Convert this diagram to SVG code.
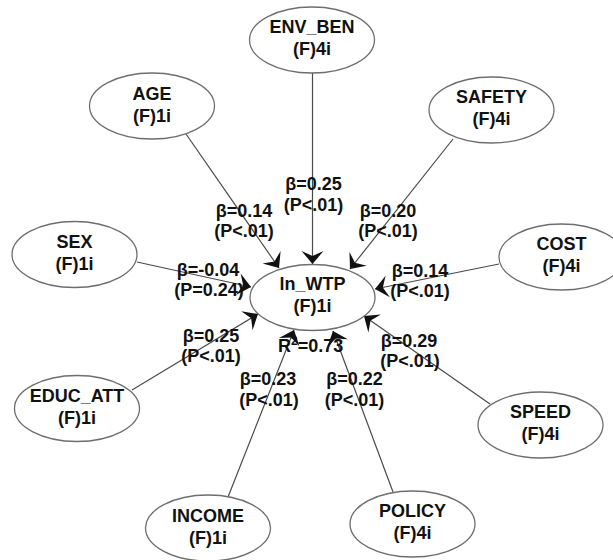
<svg xmlns="http://www.w3.org/2000/svg" width="613" height="560" viewBox="0 0 613 560">
<style>
.node ellipse{fill:#fff;stroke:#6e6e6e;stroke-width:1.3}
text{font-family:"Liberation Sans",Arial,sans-serif;font-weight:bold;font-size:18px;fill:#111;text-anchor:middle}
.conn line{stroke:#4a4a4a;stroke-width:1.2;marker-end:url(#arr)}
</style>
<defs>
<marker id="arr" markerUnits="userSpaceOnUse" viewBox="-14 -12 15 24" refX="0" refY="0" markerWidth="15" markerHeight="24" orient="auto">
<path d="M0,0 L-13,-11 L-8,0 L-13,11 Z" fill="#111"/>
</marker>
</defs>
<rect width="613" height="560" fill="#fff"/>
<g id="connectors" class="conn">
<line x1="312.5" y1="73" x2="312.5" y2="264"/>
<line x1="186" y1="134" x2="279" y2="268"/>
<line x1="453" y1="139" x2="350" y2="269"/>
<line x1="137" y1="262" x2="251" y2="287"/>
<line x1="499" y1="264" x2="375" y2="289"/>
<line x1="132" y1="390" x2="258" y2="314"/>
<line x1="490" y1="404" x2="364" y2="316"/>
<line x1="228" y1="497" x2="294" y2="330"/>
<line x1="393" y1="492" x2="333" y2="331"/>
</g>
<g id="labels">
<text x="313.5" y="190">β=0.25</text><text x="313.5" y="211">(P&lt;.01)</text>
<text x="244" y="217">β=0.14</text><text x="244" y="237">(P&lt;.01)</text>
<text x="388" y="217">β=0.20</text><text x="388" y="237">(P&lt;.01)</text>
<text x="208" y="276">β=-0.04</text><text x="209" y="296">(P=0.24)</text>
<text x="420" y="277">β=0.14</text><text x="420" y="297">(P&lt;.01)</text>
<text x="211" y="342">β=0.25</text><text x="211" y="362">(P&lt;.01)</text>
<text x="409" y="347">β=0.29</text><text x="410" y="367">(P&lt;.01)</text>
<text x="268" y="385">β=0.23</text><text x="269" y="406">(P&lt;.01)</text>
<text x="354.5" y="385">β=0.22</text><text x="354.5" y="406">(P&lt;.01)</text>
<text x="278" y="352" style="text-anchor:start">R<tspan font-size="12" dy="-7">2</tspan><tspan dy="7">=0.73</tspan></text>
</g>
<g id="ENV_BEN" class="node"><ellipse cx="312" cy="40" rx="62.5" ry="33"/><text x="312" y="33">ENV_BEN</text><text x="312" y="55">(F)4i</text></g>
<g id="AGE" class="node"><ellipse cx="152" cy="106" rx="62.5" ry="33"/><text x="152" y="100">AGE</text><text x="152" y="122">(F)1i</text></g>
<g id="SAFETY" class="node"><ellipse cx="491.5" cy="110" rx="62.5" ry="33"/><text x="491.5" y="103">SAFETY</text><text x="491.5" y="125">(F)4i</text></g>
<g id="SEX" class="node"><ellipse cx="74.5" cy="254.5" rx="62.5" ry="33"/><text x="74.5" y="248">SEX</text><text x="74.5" y="270">(F)1i</text></g>
<g id="COST" class="node"><ellipse cx="561.5" cy="257" rx="62.5" ry="33"/><text x="561.5" y="250">COST</text><text x="561.5" y="272">(F)4i</text></g>
<g id="ln_WTP" class="node"><ellipse cx="312.5" cy="297.5" rx="62.5" ry="33"/><text x="312.5" y="290">ln_WTP</text><text x="312.5" y="312">(F)1i</text></g>
<g id="EDUC_ATT" class="node"><ellipse cx="77" cy="408.5" rx="62.5" ry="33"/><text x="77" y="402">EDUC_ATT</text><text x="77" y="424">(F)1i</text></g>
<g id="SPEED" class="node"><ellipse cx="540.5" cy="425" rx="62.5" ry="33"/><text x="540.5" y="418">SPEED</text><text x="540.5" y="440">(F)4i</text></g>
<g id="INCOME" class="node"><ellipse cx="208" cy="528" rx="62.5" ry="33"/><text x="208" y="522">INCOME</text><text x="208" y="544">(F)1i</text></g>
<g id="POLICY" class="node"><ellipse cx="412.5" cy="524" rx="62.5" ry="33"/><text x="412.5" y="517">POLICY</text><text x="412.5" y="539">(F)4i</text></g>
</svg>
